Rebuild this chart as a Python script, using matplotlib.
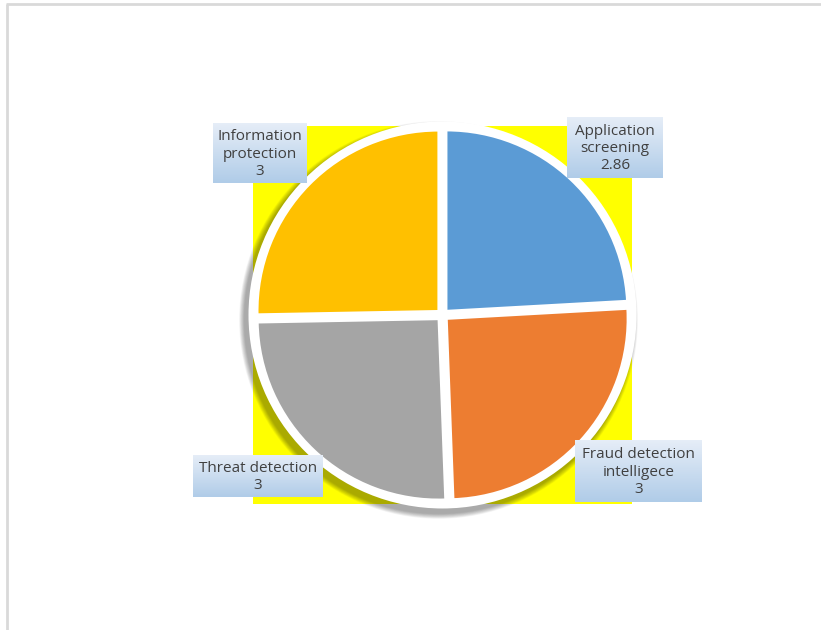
import matplotlib
matplotlib.use("Agg")
import matplotlib.pyplot as plt
import numpy as np
from matplotlib.patches import Circle

plt.rcParams['font.family'] = ['Open Sans', 'DejaVu Sans']

categories = ["Application\nscreening", "Fraud detection\nintelligece", "Threat detection", "Information\nprotection"]
values = [2.86, 3, 3, 3]
colors = ["#5b9bd5", "#ed7d31", "#a5a5a5", "#ffc000"]

W, H = 821, 630
fig = plt.figure(figsize=(W / 100, H / 100), dpi=100)
fig.patch.set_facecolor("white")

# plot area (yellow)
px0, px1, py0, py1 = 253, 632, 126, 504
ax = fig.add_axes([px0 / W, 1 - py1 / H, (px1 - px0) / W, (py1 - py0) / H])

unit = (px1 - px0) / 2.0
R = 194 / unit

wedges, _ = ax.pie(values, colors=colors, startangle=90, counterclock=False,
                   radius=0.955, explode=[0.03] * len(values),
                   wedgeprops=dict(edgecolor="white", linewidth=1.5))
for w in wedges:
    w.set_zorder(3)
ax.set_frame_on(True)
ax.set_facecolor("#ffff00")
for s in ax.spines.values():
    s.set_visible(False)
ax.set_xlim(-1, 1)
ax.set_ylim(-1, 1)
ax.set_xticks([])
ax.set_yticks([])
ax.set_aspect("auto")

# shadow
for i in range(12):
    ax.add_patch(Circle((-4 / unit, -5 / unit), R + (12 - i) * 0.45 / unit,
                        color="black", alpha=0.03, lw=0, zorder=1, clip_on=False))
ax.add_patch(Circle((0, 0), R, color="white", lw=0, zorder=2, clip_on=False))

# overlay in pixel coordinates
ov = fig.add_axes([0, 0, 1, 1], facecolor="none")
ov.set_xlim(0, W)
ov.set_ylim(H, 0)
ov.axis("off")
ov.plot([7, 7], [H, 3.5], color="#d9d9d9", lw=2, solid_capstyle="butt")
ov.plot([6, W], [3.5, 3.5], color="#d9d9d9", lw=2, solid_capstyle="butt")

boxes = [(567, 117, 663, 178), (575, 440, 702, 502), (193, 455, 323, 497), (213, 123, 307, 183)]
grad = np.linspace(0, 1, 64).reshape(-1, 1)
top = np.array([0.90, 0.93, 0.97])
bot = np.array([0.69, 0.80, 0.91])
img = top[None, None, :] * (1 - grad[..., None]) + bot[None, None, :] * grad[..., None]
for (x0, y0, x1, y1), cat, v in zip(boxes, categories, values):
    ov.imshow(img, extent=(x0, x1, y1, y0), aspect="auto", zorder=5, interpolation="bilinear")
    ov.text((x0 + x1) / 2, (y0 + y1) / 2 + 1, f"{cat}\n{v:g}", ha="center", va="center",
            fontsize=11, color="#404040", linespacing=1.2, zorder=6)
ov.set_xlim(0, W)
ov.set_ylim(H, 0)

fig.savefig("out.png", dpi=100)
